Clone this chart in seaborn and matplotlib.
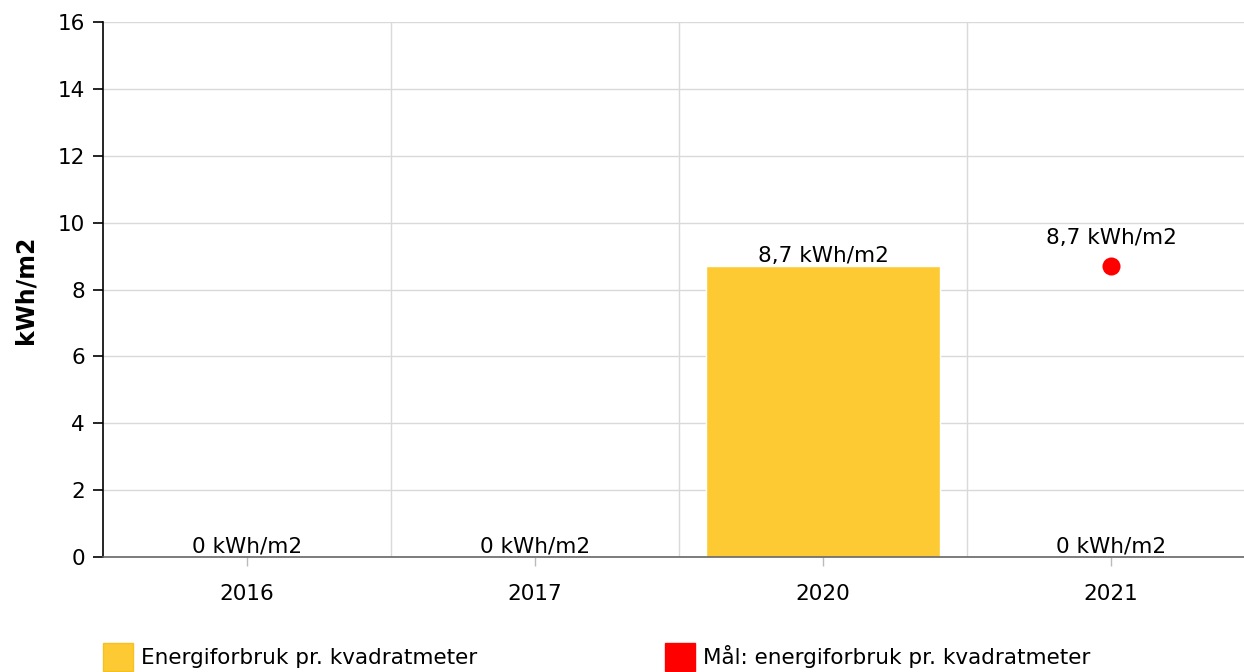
import numpy as np
import seaborn as sns
import matplotlib.pyplot as plt
from matplotlib.patches import Patch

years = ['2016', '2017', '2020', '2021']
energy = [0, 0, 8.7, 0]
target = [np.nan, np.nan, np.nan, 8.7]
energy_labels = ['0 kWh/m2', '0 kWh/m2', '8,7 kWh/m2', '0 kWh/m2']
target_label = '8,7 kWh/m2'
y_ticks = [0, 2, 4, 6, 8, 10, 12, 14, 16]

bar_color = '#FDCA33'
target_color = '#FF0000'
fs = 15.5

sns.set_style('white')
plt.rcParams['font.family'] = ['DejaVu Sans']
plt.rcParams['text.color'] = 'black'
plt.rcParams['axes.labelcolor'] = 'black'
plt.rcParams['xtick.color'] = 'black'
plt.rcParams['ytick.color'] = 'black'

fig = plt.figure(figsize=(12.44, 6.72), dpi=100)
ax = fig.add_axes([103 / 1244, 1 - 557 / 672, 1152 / 1244, 535 / 672])

sns.barplot(x=years, y=energy, color=bar_color, width=0.81, saturation=1, ax=ax)
sns.stripplot(x=years, y=target, color=target_color, size=13, jitter=False, ax=ax)

# labels over the bars and the target dot
ax.bar_label(ax.containers[0], labels=energy_labels, padding=0, fontsize=fs, color='black')
for i, v in enumerate(target):
    if not np.isnan(v):
        ax.annotate(target_label, (i, v), xytext=(0, 13), textcoords='offset points',
                    ha='center', va='bottom', fontsize=fs, color='black')

ax.set_xlim(-0.5, 3.5)
ax.set_ylim(0, 16)
ax.set_yticks(y_ticks)
ax.set_xticks(range(len(years)))
ax.set_xticklabels(years)
ax.set_xticks([0.5, 1.5, 2.5], minor=True)

ax.grid(axis='y', color='#d9d9d9', lw=1)
ax.grid(axis='x', which='minor', color='#d9d9d9', lw=1)
ax.set_axisbelow(True)

for s in ['top', 'right']:
    ax.spines[s].set_visible(False)
ax.spines['left'].set_color('black')
ax.spines['left'].set_linewidth(1.2)
ax.spines['bottom'].set_color('#666666')
ax.spines['bottom'].set_linewidth(1.2)

ax.tick_params(axis='y', which='major', left=True, length=7, width=1.2, color='black',
               labelsize=fs, pad=6)
ax.tick_params(axis='x', which='major', bottom=True, length=6.5, width=1, color='#bbbbbb',
               labelsize=fs, pad=13)
ax.tick_params(axis='x', which='minor', bottom=False)

ax.set_ylabel('kWh/m2', fontsize=17, fontweight='bold')
ax.yaxis.set_label_coords(-0.0567, 0.5)

h1 = [Patch(facecolor=bar_color, edgecolor='#f5c020')]
h2 = [Patch(facecolor=target_color, edgecolor=target_color)]
leg_kw = dict(loc='upper left', frameon=False, borderpad=0, borderaxespad=0,
              handlelength=1.4, handleheight=1.65, handletextpad=0.35, fontsize=fs)
leg1 = fig.legend(h1, ['Energiforbruk pr. kvadratmeter'],
                  bbox_to_anchor=(103 / 1244, 1 - 643 / 672), **leg_kw)
leg2 = fig.legend(h2, ['Mål: energiforbruk pr. kvadratmeter'],
                  bbox_to_anchor=(665 / 1244, 1 - 643 / 672), **leg_kw)

fig.savefig('out.png', dpi=100)
